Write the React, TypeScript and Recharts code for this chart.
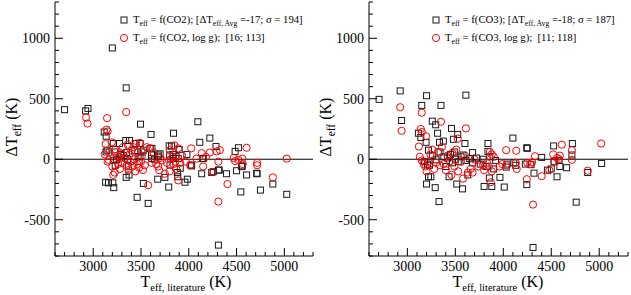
import { ScatterChart, Scatter, XAxis, YAxis, ReferenceLine } from 'recharts'

// [T_eff literature (K), delta T_eff (K)]
const co2: [number, number][] = [
  [2700, 410], [2920, 400], [2945, 420], [3200, 920], [3345, 590],
  [3115, 225], [3135, 190], [3145, 75], [3134, 60], [3130, -190], [3160, -195], [3205, -195], [3215, -235],
  [3210, -8], [3225, 60], [3230, -50], [3245, -5], [3275, 130], [3280, 10], [3210, 130], [3290, 40],
  [3340, 155], [3380, 155], [3350, 55], [3345, -150], [3375, -130], [3367, -62], [3360, 0], [3320, 30],
  [3440, 130], [3490, 130], [3435, 70], [3460, -315], [3495, 290], [3470, 20], [3490, 21], [3480, -20],
  [3510, 60], [3525, -200], [3525, 75], [3575, -365], [3595, 90], [3605, 205], [3612, 7], [3610, 35],
  [3615, 90], [3640, 0], [3675, -165], [3681, 35], [3680, 20], [3700, 45], [3750, -150], [3790, -230],
  [3795, 110], [3820, 110], [3800, 35], [3803, -48], [3835, 40], [3838, 7], [3840, 215], [3865, 20],
  [3880, -110], [3885, -145], [3890, 5], [3900, 80], [3911, -75], [3960, -190], [3980, 40], [3985, -165],
  [4023, -48], [4030, -55], [4095, 310], [4115, 140], [4135, -120], [4145, 5], [4152, 7], [4220, 175],
  [4240, -110], [4256, -103], [4285, 105], [4310, -90], [4319, -89], [4310, -710], [4395, -120],
  [4485, 65], [4500, -95], [4520, 95], [4545, -270], [4553, -61], [4560, -55], [4605, -130],
  [4711, -116], [4715, -120], [4750, -255], [4880, -205], [5025, -290],
]

const co2g: [number, number][] = [
  [2925, 345], [2940, 295], [3145, 340], [3140, 245], [3150, 230], [3345, 390],
  [3130, 125], [3195, 140], [3120, 40], [3150, -20], [3160, -5], [3170, 60], [3200, -60], [3210, -130],
  [3225, -110], [3230, 80], [3250, 30], [3260, -40], [3270, 20], [3280, -80], [3290, 50], [3300, -30],
  [3310, 100], [3330, 10], [3350, -50], [3360, 120], [3370, -90], [3380, 40], [3390, -20], [3400, 70],
  [3410, -60], [3420, 100], [3430, 0], [3440, -100], [3450, 130], [3460, -40], [3470, 60], [3480, -70],
  [3490, 135], [3500, -20], [3510, 30], [3520, -90], [3540, -50], [3560, 100], [3575, -215], [3595, 90],
  [3610, -30], [3630, 55], [3660, -40], [3680, -60], [3690, -90], [3700, 10], [3720, -10], [3750, -120],
  [3770, -30], [3800, 75], [3800, -100], [3810, 0], [3830, 20], [3840, -40], [3850, 115], [3860, -20],
  [3870, -80], [3890, 90], [3890, -175], [3910, -30], [3930, 30], [3970, -20], [4015, -50], [4025, 90],
  [4080, 5], [4135, 50], [4150, -60], [4180, 20], [4220, 55], [4245, -105], [4290, 65], [4310, -20],
  [4310, -350], [4325, 75], [4405, -205], [4470, 10], [4485, -15], [4520, -5], [4560, 5], [4565, -40],
  [4605, 95], [4715, -30], [4715, -50], [4880, -150], [5025, 5],
]

const co3: [number, number][] = [
  [2705, 495], [2925, 565], [2940, 320], [3200, 525], [3150, 445], [3350, 445], [3610, 530], [3260, 315],
  [3295, 285], [3115, 215], [3140, 180], [3195, 140], [3315, 215], [3335, 140], [3375, 150], [3460, 255],
  [3525, 205], [3480, 165], [3600, 130], [3840, 130], [4100, 175], [4245, 95], [4525, 110], [4720, 130],
  [4715, 35], [4400, 15], [4250, 90], [3840, 65], [3680, 55], [3580, 35], [5025, -35],
  [3220, 75], [3300, -5], [3180, -20], [3210, -40], [3230, -50], [3220, -145], [3245, -145], [3200, -205],
  [3290, -235], [3330, -350], [3435, -145], [3515, -205], [3575, -245], [3630, -130], [3680, -30],
  [3800, -225], [3880, -225], [3855, -155], [3965, -150], [4010, -230], [4030, -65], [4245, -210],
  [4320, -115], [4310, -730], [4460, -90], [4560, -145], [4590, -60], [4660, -70], [4760, -355], [4880, -110],
  [3260, 30], [3340, 60], [3380, 20], [3400, -60], [3420, 10], [3450, 40], [3470, -30], [3490, 60],
  [3500, 0], [3530, -20], [3560, 20], [3610, -10], [3650, 5], [3720, 10], [3760, -40], [3790, 0],
  [3820, -60], [3860, 20], [3900, -80], [3920, -10], [4040, -40], [4110, -30], [4130, -50], [4230, -40],
  [4290, -45], [4500, -80], [4530, -20], [4580, -10],
]

const co3g: [number, number][] = [
  [2925, 430], [2940, 235], [3150, 385], [3140, 250], [3150, 225], [3195, 190], [3350, 310], [3610, 255],
  [3525, 170], [3120, 105], [4610, 120], [5020, 130], [4715, 75], [4715, -5], [4520, 40], [4560, 10],
  [4580, 0], [4330, 25], [4135, 70], [4030, 75], [3860, 60], [3880, 40],
  [3130, 20], [3150, -10], [3170, -40], [3200, -100], [3190, -60], [3220, -20], [3240, 40], [3260, 80],
  [3280, -80], [3300, -30], [3320, 60], [3340, -50], [3360, 100], [3380, -40], [3400, -90], [3420, 30],
  [3440, -20], [3460, -130], [3470, 50], [3490, -60], [3510, 80], [3530, -100], [3560, -20], [3580, -160],
  [3600, 30], [3630, -110], [3660, -80], [3680, -110], [3700, 0], [3740, -60], [3790, -50], [3800, -90],
  [3830, -30], [3850, -60], [3870, -190], [3880, -100], [3900, 20], [3960, -60], [3990, -40], [4030, -50],
  [4130, -30], [4140, -80], [4245, -165], [4250, -30], [4280, -40], [4300, -25], [4310, -375], [4400, -140],
  [4480, -90], [4530, -20], [4590, 30], [4880, -95],
]

const xDomain = [2600, 5300]
const yDomain = [-800, 1300]
const xTicks = Array.from({ length: 28 }, (_, i) => 2600 + i * 100)
const yTicks = Array.from({ length: 22 }, (_, i) => -800 + i * 100)

const FONT = "'Liberation Serif'"

const toPts = (arr: [number, number][]) => arr.map(([t, d]) => ({ t, d }))

const len = (v: number) => (v % 500 === 0 ? 8 : 4)

const BottomTick = ({ x, y, payload }: any) => (
  <g>
    <line x1={x} x2={x} y1={y} y2={y - len(payload.value)} stroke="#000" />
    {payload.value % 500 === 0 && payload.value >= 3000 && (
      <text x={x} y={y + 15} textAnchor="middle" fill="#000" fontFamily="Liberation Serif" fontSize={14}>
        {payload.value}
      </text>
    )}
  </g>
)
const TopTick = ({ x, y, payload }: any) => (
  <line x1={x} x2={x} y1={y} y2={y + len(payload.value)} stroke="#000" />
)
const LeftTick = ({ x, y, payload }: any) => (
  <g>
    <line x1={x} x2={x + len(payload.value)} y1={y} y2={y} stroke="#000" />
    {payload.value % 500 === 0 && (
      <text x={x - 5} y={y + 5} textAnchor="end" fill="#000" fontFamily="Liberation Serif" fontSize={14}>
        {payload.value}
      </text>
    )}
  </g>
)
const RightTick = ({ x, y, payload }: any) => (
  <line x1={x} x2={x - len(payload.value)} y1={y} y2={y} stroke="#000" />
)

const Square = ({ cx, cy }: any) => (
  <rect x={cx - 3} y={cy - 3} width={6} height={6} fill="none" stroke="#1a1a1a" strokeWidth={1} />
)
const Circle = ({ cx, cy }: any) => (
  <circle cx={cx} cy={cy} r={3.6} fill="none" stroke="#ff0000" strokeWidth={1} />
)

const Sub = ({ children, size = '0.72em' }: any) => (
  <span style={{ fontSize: size, position: 'relative', top: '0.35em' }}>{children}</span>
)

function Panel({ sq, ci, yw }: { sq: [number, number][]; ci: [number, number][]; yw: number }) {
  return (
    <ScatterChart width={316} height={295} margin={{ top: 2, right: 3, bottom: 0, left: 0 }}>
      <XAxis xAxisId="b" type="number" dataKey="t" domain={xDomain} ticks={xTicks} interval={0}
        allowDataOverflow height={39} tickSize={0} tickMargin={0} tickLine={false}
        axisLine={{ stroke: '#000' }} tick={BottomTick} />
      <XAxis xAxisId="t" orientation="top" type="number" dataKey="t" domain={xDomain} ticks={xTicks}
        interval={0} allowDataOverflow height={0} tickSize={0} tickMargin={0} tickLine={false}
        axisLine={{ stroke: '#000' }} tick={TopTick} />
      <YAxis yAxisId="l" type="number" dataKey="d" domain={yDomain} ticks={yTicks} interval={0}
        allowDataOverflow width={yw} tickSize={0} tickMargin={0} tickLine={false}
        axisLine={{ stroke: '#000' }} tick={LeftTick} />
      <YAxis yAxisId="r" orientation="right" type="number" dataKey="d" domain={yDomain} ticks={yTicks}
        interval={0} allowDataOverflow width={0} tickSize={0} tickMargin={0} tickLine={false}
        axisLine={{ stroke: '#000' }} tick={RightTick} />
      <ReferenceLine xAxisId="b" yAxisId="l" y={0} stroke="#000" strokeWidth={1} />
      <Scatter xAxisId="b" yAxisId="l" data={toPts(sq)} shape={Square} isAnimationActive={false} />
      <Scatter xAxisId="t" yAxisId="r" data={toPts(ci)} shape={Circle} isAnimationActive={false} />
    </ScatterChart>
  )
}

function Legend({ left, co, avg, sig, avg2, sig2 }: any) {
  const row = (top: number, marker: any, content: any) => (
    <div style={{ position: 'absolute', left: left - 5, top, height: 14, display: 'flex', alignItems: 'center' }}>
      <svg width={10} height={10} style={{ marginRight: 4 }}>{marker}</svg>
      <span style={{ fontSize: 10.7, whiteSpace: 'nowrap', lineHeight: '14px' }}>{content}</span>
    </div>
  )
  return (
    <>
      {row(13, <rect x={2} y={2} width={6} height={6} fill="none" stroke="#1a1a1a" />,
        <>T<Sub>eff</Sub> = f({co}); [ΔT<Sub>eff, Avg</Sub> ={avg}; σ = {sig}]</>)}
      {row(31, <circle cx={5} cy={5} r={3.6} fill="none" stroke="#ff0000" />,
        <>T<Sub>eff</Sub> = f({co}, log g);&nbsp; [{avg2}; {sig2}]</>)}
    </>
  )
}

const XTitle = ({ cx }: { cx: number }) => (
  <div style={{ position: 'absolute', left: cx, top: 273, transform: 'translateX(-50%)', fontSize: 16, whiteSpace: 'nowrap' }}>
    T<Sub size="0.66em">eff, literature</Sub> (K)
  </div>
)
const YTitle = ({ cx }: { cx: number }) => (
  <div style={{ position: 'absolute', left: cx, top: 127, transform: 'translate(-50%, -50%) rotate(-90deg)', fontSize: 16, whiteSpace: 'nowrap' }}>
    ΔT<Sub size="0.72em">eff</Sub> (K)
  </div>
)

export default function App() {
  return (
    <div style={{ position: 'absolute', left: 0, top: 0, width: 631, height: 295, background: '#fff', fontFamily: FONT, color: '#000', overflow: 'hidden' }}>
      <div style={{ position: 'absolute', left: 0, top: 0 }}>
        <Panel sq={co2} ci={co2g} yw={55} />
      </div>
      <div style={{ position: 'absolute', left: 315, top: 0 }}>
        <Panel sq={co3} ci={co3g} yw={54} />
      </div>
      <Legend left={124} co="CO2" avg="-17" sig="194" avg2="16" sig2="113" />
      <Legend left={436} co="CO3" avg="-18" sig="187" avg2="11" sig2="118" />
      <XTitle cx={186} />
      <XTitle cx={498} />
      <YTitle cx={12} />
      <YTitle cx={326} />
    </div>
  )
}
